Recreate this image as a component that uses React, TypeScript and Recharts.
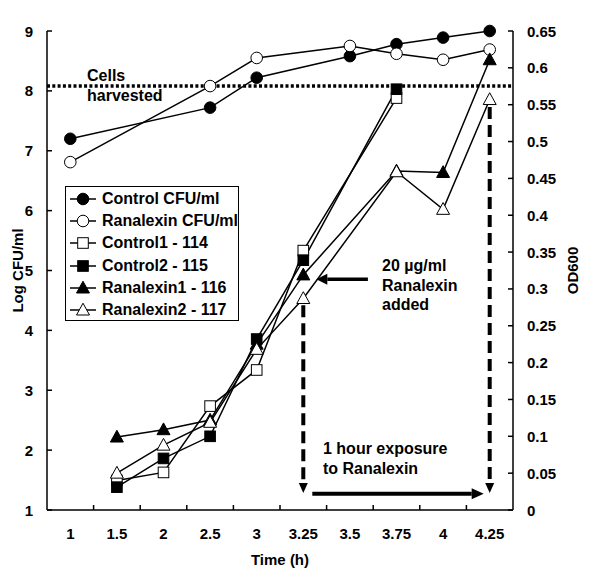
import React from 'react';
import { ComposedChart, Line, XAxis, YAxis, ReferenceLine, Legend } from 'recharts';

// time points (h) - plotted as evenly spaced categories
const times = ['1', '1.5', '2', '2.5', '3', '3.25', '3.5', '3.75', '4', '4.25'];

// Log CFU/ml (left axis)
const controlCfu = [7.2, null, null, 7.72, 8.22, null, 8.58, 8.78, 8.89, 9.0];
const ranalexinCfu = [6.81, null, null, 8.08, 8.55, null, 8.75, 8.62, 8.52, 8.69];

// OD600 (right axis)
const control1 = [null, 0.04, 0.051, 0.141, 0.19, 0.352, null, 0.559, null, null];
const control2 = [null, 0.031, 0.07, 0.1, 0.232, 0.339, null, 0.571, null, null];
const ranalexin1 = [null, 0.099, 0.109, 0.122, 0.225, 0.319, null, 0.46, 0.458, 0.611];
const ranalexin2 = [null, 0.05, 0.088, 0.119, 0.218, 0.287, null, 0.459, 0.408, 0.557];

const cfuTicks = [1, 2, 3, 4, 5, 6, 7, 8, 9];
const odTicks = [0, 0.05, 0.1, 0.15, 0.2, 0.25, 0.3, 0.35, 0.4, 0.45, 0.5, 0.55, 0.6, 0.65];

// annotation anchors
const harvestLevel = 8.08;
const addedTime = '3.25';
const endTime = '4.25';

const data = times.map((t, i) => ({
  time: t,
  controlCfu: controlCfu[i],
  ranalexinCfu: ranalexinCfu[i],
  control1: control1[i],
  control2: control2[i],
  ranalexin1: ranalexin1[i],
  ranalexin2: ranalexin2[i],
}));

const series = [
  { key: 'controlCfu', name: 'Control CFU/ml', axis: 'cfu', shape: 'circle', filled: true },
  { key: 'ranalexinCfu', name: 'Ranalexin CFU/ml', axis: 'cfu', shape: 'circle', filled: false },
  { key: 'control1', name: 'Control1 - 114', axis: 'od', shape: 'square', filled: false },
  { key: 'control2', name: 'Control2 - 115', axis: 'od', shape: 'square', filled: true },
  { key: 'ranalexin1', name: 'Ranalexin1 - 116', axis: 'od', shape: 'triangle', filled: true },
  { key: 'ranalexin2', name: 'Ranalexin2 - 117', axis: 'od', shape: 'triangle', filled: false },
];

const W = 600;
const H = 584;
const LEFT_W = 47;
const RIGHT_W = 87;
const TOP = 31;
const XAXIS_H = 74;
const BAND = (W - LEFT_W - RIGHT_W) / times.length;
const FONT = '"Liberation Sans", Arial, sans-serif';

const tickText = { fontFamily: FONT, fontWeight: 700, fontSize: 15, fill: '#000' };

const Marker = ({ cx, cy, shape, filled }: any) => {
  const fill = filled ? '#000' : '#fff';
  if (shape === 'circle') return <circle cx={cx} cy={cy} r={5.8} fill={fill} stroke="#000" strokeWidth={1} />;
  if (shape === 'square')
    return <rect x={cx - 5.3} y={cy - 5.3} width={10.6} height={10.6} fill={fill} stroke="#000" strokeWidth={1} />;
  return (
    <polygon
      points={`${cx},${cy - 6.8} ${cx + 6.5},${cy + 5} ${cx - 6.5},${cy + 5}`}
      fill={fill}
      stroke="#000"
      strokeWidth={1}
    />
  );
};

const LeftTick = (p: any) => (
  <g>
    <line x1={p.x + 14} x2={p.x + 19} y1={p.y} y2={p.y} stroke="#000" strokeWidth={1.5} />
    <text x={p.x} y={p.y} textAnchor="end" dominantBaseline="central" style={tickText}>
      {p.payload.value}
    </text>
  </g>
);

const RightTick = (p: any) => (
  <g>
    <line x1={p.x - 14} x2={p.x - 19} y1={p.y} y2={p.y} stroke="#000" strokeWidth={1.5} />
    <text x={p.x} y={p.y} textAnchor="start" dominantBaseline="central" style={tickText}>
      {p.payload.value}
    </text>
  </g>
);

const BottomTick = (p: any) => {
  const axisY = p.y - 23;
  return (
    <g>
      {p.index < times.length - 1 && (
        <line x1={p.x + BAND / 2} x2={p.x + BAND / 2} y1={axisY} y2={axisY - 5} stroke="#000" strokeWidth={1.5} />
      )}
      <text x={p.x} y={p.y} textAnchor="middle" dominantBaseline="central" style={tickText}>
        {p.payload.value}
      </text>
    </g>
  );
};

// arrow drawn along a reference segment, pixel offsets shift the ends
const makeArrow = (dx1: number, dx2: number, width: number, head: number, halfW: number, dash?: string) =>
  (p: any) => {
    const sx = p.x1 + dx1;
    const sy = p.y1;
    const ex = p.x2 + dx2;
    const ey = p.y2;
    const len = Math.hypot(ex - sx, ey - sy) || 1;
    const ux = (ex - sx) / len;
    const uy = (ey - sy) / len;
    const bx = ex - ux * head;
    const by = ey - uy * head;
    return (
      <g>
        <line x1={sx} y1={sy} x2={bx} y2={by} stroke="#000" strokeWidth={width} strokeDasharray={dash} />
        <polygon
          points={`${ex},${ey} ${bx - uy * halfW},${by + ux * halfW} ${bx + uy * halfW},${by - ux * halfW}`}
          fill="#000"
        />
      </g>
    );
  };

const LegendBox = () => (
  <div
    style={{
      width: 174,
      height: 135,
      boxSizing: 'border-box',
      border: '1.5px solid #000',
      background: '#fff',
      paddingTop: 0.5,
      fontFamily: FONT,
      fontWeight: 700,
      fontSize: 16,
      color: '#000',
    }}
  >
    {series.map((s) => (
      <div key={s.key} style={{ display: 'flex', alignItems: 'center', height: 22.3 }}>
        <svg width={36} height={22} style={{ flex: 'none' }}>
          <line x1={4} x2={30} y1={11} y2={11} stroke="#000" strokeWidth={1.5} />
          <Marker cx={17} cy={11} shape={s.shape} filled={s.filled} />
        </svg>
        <span style={{ whiteSpace: 'nowrap' }}>{s.name}</span>
      </div>
    ))}
  </div>
);

const note: React.CSSProperties = {
  position: 'absolute',
  fontFamily: FONT,
  fontWeight: 700,
  fontSize: 16,
  lineHeight: '19.5px',
  color: '#000',
  whiteSpace: 'nowrap',
};

export default function App() {
  return (
    <div style={{ position: 'relative', width: W, height: H, background: '#fff' }}>
      <style>{'body{margin:0}'}</style>
      <ComposedChart width={W} height={H} data={data} margin={{ top: TOP, right: 0, bottom: 0, left: 0 }}>
        <XAxis
          dataKey="time"
          height={XAXIS_H}
          interval={0}
          padding={{ left: BAND / 2, right: BAND / 2 }}
          tickLine={false}
          tickSize={0}
          tickMargin={23}
          tick={BottomTick}
          axisLine={{ stroke: '#000', strokeWidth: 1.5 }}
          label={{ value: 'Time (h)', position: 'center', dy: 13, fill: '#000', fontSize: 15, fontWeight: 700, fontFamily: FONT }}
        />
        <YAxis
          yAxisId="cfu"
          orientation="left"
          width={LEFT_W}
          type="number"
          domain={[1, 9]}
          ticks={cfuTicks}
          interval={0}
          tickLine={false}
          tickSize={0}
          tickMargin={14}
          tick={LeftTick}
          axisLine={{ stroke: '#000', strokeWidth: 1.5 }}
          label={{ value: 'Log CFU/ml', angle: -90, position: 'center', dx: -5.5, fill: '#000', fontSize: 15, fontWeight: 700, fontFamily: FONT }}
        />
        <YAxis
          yAxisId="od"
          orientation="right"
          width={RIGHT_W}
          type="number"
          domain={[0, 0.65]}
          ticks={odTicks}
          interval={0}
          tickLine={false}
          tickSize={0}
          tickMargin={14}
          tick={RightTick}
          axisLine={{ stroke: '#000', strokeWidth: 1.5 }}
          label={{ value: 'OD600', angle: -90, position: 'center', dx: 16.5, fill: '#000', fontSize: 15, fontWeight: 700, fontFamily: FONT }}
        />
        <ReferenceLine
          yAxisId="cfu"
          y={harvestLevel}
          stroke="#000"
          strokeWidth={3.5}
          strokeDasharray="3 2.3"
        />
        <ReferenceLine
          yAxisId="od"
          segment={[{ x: addedTime, y: 0.278 }, { x: addedTime, y: 0.023 }]}
          shape={makeArrow(0, 0, 4, 10, 4.5, '12 6')}
        />
        <ReferenceLine
          yAxisId="od"
          segment={[{ x: endTime, y: 0.547 }, { x: endTime, y: 0.023 }]}
          shape={makeArrow(0, 0, 4, 10, 4.5, '12 6')}
        />
        <ReferenceLine
          yAxisId="od"
          segment={[{ x: addedTime, y: 0.022 }, { x: endTime, y: 0.022 }]}
          shape={makeArrow(9, -6, 4, 12, 5.5)}
        />
        <ReferenceLine
          yAxisId="od"
          segment={[{ x: '3.5', y: 0.313 }, { x: addedTime, y: 0.313 }]}
          shape={makeArrow(18, 13, 3.5, 11, 5.5)}
        />
        {series.map((s) => (
          <Line
            key={s.key}
            yAxisId={s.axis}
            dataKey={s.key}
            name={s.name}
            stroke="#000"
            strokeWidth={1.5}
            connectNulls
            isAnimationActive={false}
            dot={(p: any) =>
              p.cy == null || p.value == null ? (
                <g key={`${s.key}-${p.index}`} />
              ) : (
                <Marker key={`${s.key}-${p.index}`} cx={p.cx} cy={p.cy} shape={s.shape} filled={s.filled} />
              )
            }
            activeDot={false}
          />
        ))}
        <Legend
          layout="vertical"
          align="center"
          verticalAlign="middle"
          content={() => <LegendBox />}
          wrapperStyle={{ left: 65, top: 186, width: 174, height: 135 }}
        />
      </ComposedChart>
      <div style={{ ...note, left: 87, top: 66 }}>
        Cells
        <br />
        harvested
      </div>
      <div style={{ ...note, left: 382, top: 256 }}>
        20 µg/ml
        <br />
        Ranalexin
        <br />
        added
      </div>
      <div style={{ ...note, left: 323, top: 439 }}>
        1 hour exposure
        <br />
        to Ranalexin
      </div>
    </div>
  );
}
